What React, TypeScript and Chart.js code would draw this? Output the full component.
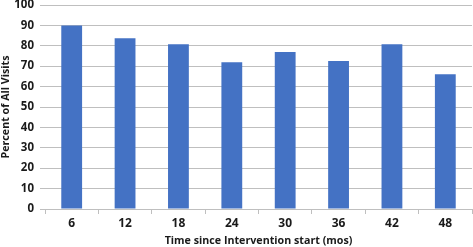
import React, { useEffect, useRef } from "react";
import { Chart, registerables } from "chart.js";

Chart.register(...registerables);

const categories = ["6", "12", "18", "24", "30", "36", "42", "48"];
const percentValues = [90.0, 83.7, 80.7, 71.9, 77.0, 72.5, 80.7, 66.0];
const yTicks = [0, 10, 20, 30, 40, 50, 60, 70, 80, 90, 100];

const FONT = "'Open Sans', sans-serif";

export default function App() {
  const ref = useRef<HTMLCanvasElement | null>(null);

  useEffect(() => {
    document.body.style.margin = "0";
    if (!ref.current) return;
    const chart = new Chart(ref.current, {
      type: "bar",
      data: {
        labels: categories,
        datasets: [
          {
            data: percentValues,
            backgroundColor: "#4472C4",
            borderWidth: 0,
            barPercentage: 0.39,
            categoryPercentage: 1,
          },
        ],
      },
      options: {
        animation: false,
        responsive: false,
        maintainAspectRatio: false,
        layout: { padding: { top: 5, right: 1, left: 0, bottom: 0 } },
        plugins: { legend: { display: false }, tooltip: { enabled: false } },
        scales: {
          x: {
            grid: {
              display: true,
              drawOnChartArea: false,
              drawTicks: true,
              tickLength: 5,
              color: "#BFBFBF",
              offset: true,
            },
            border: { display: true, color: "#BFBFBF", width: 1 },
            ticks: {
              color: "#1a1a1a",
              font: { family: FONT, size: 12, weight: "bold" },
              padding: 2,
            },
            title: {
              display: true,
              text: "Time since Intervention start (mos)",
              color: "#1a1a1a",
              font: { family: FONT, size: 10.7, weight: "bold" },
              padding: { top: 1, bottom: 0 },
            },
            afterFit: (s: any) => {
              s.height = 38;
            },
          },
          y: {
            min: 0,
            max: 100,
            afterBuildTicks: (s: any) => {
              s.ticks = yTicks.map((v) => ({ value: v }));
            },
            grid: {
              color: "#BFBFBF",
              tickLength: 5,
              lineWidth: 1,
            },
            border: { display: false },
            ticks: {
              color: "#1a1a1a",
              font: { family: FONT, size: 11.5, weight: "bold" },
              padding: 6,
            },
            title: {
              display: true,
              text: "Percent of All Visits",
              color: "#1a1a1a",
              font: { family: FONT, size: 10.7, weight: "bold" },
              padding: { top: 0, bottom: 0 },
            },
            afterFit: (s: any) => {
              s.width = 45;
              s.paddingTop = 0;
              s.paddingBottom = 0;
            },
          },
        },
      },
    });
    return () => chart.destroy();
  }, []);

  return (
    <div style={{ position: "absolute", left: 0, top: 0, width: 473, height: 247, background: "#fff" }}>
      <canvas ref={ref} width={473} height={247} style={{ width: 473, height: 247, display: "block" }} />
    </div>
  );
}
